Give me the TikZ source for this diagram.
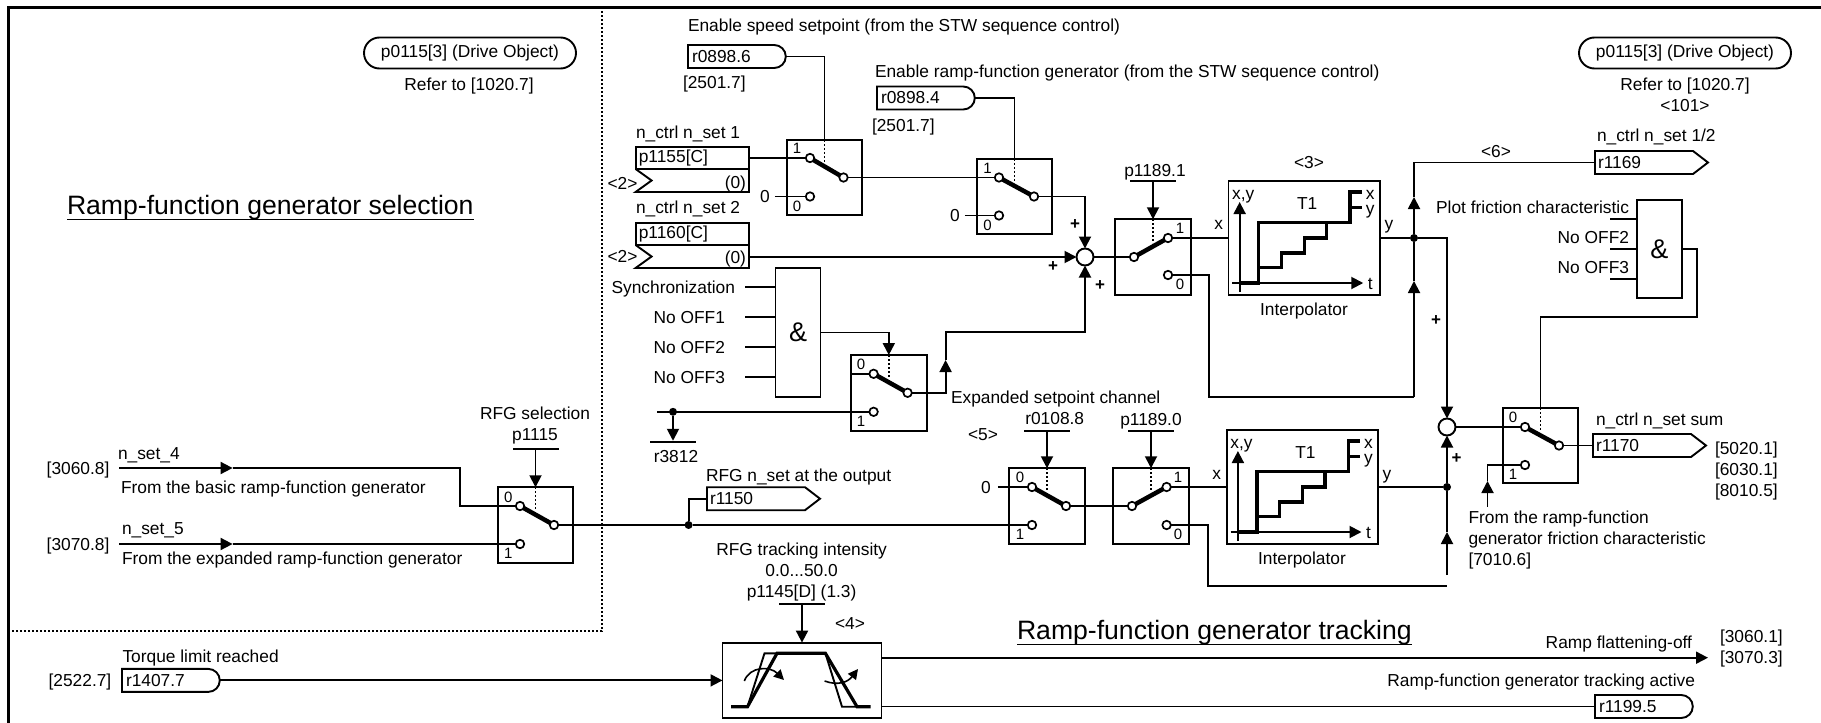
\documentclass[tikz,border=0pt]{standalone}
\usepackage{fontspec}
\setmainfont{Liberation Sans}
\usetikzlibrary{arrows.meta, shapes.misc, shapes.symbols}

\begin{document}
\begin{tikzpicture}[
  x=1pt, y=-1pt,
  txt/.style={font=\fontsize{17.35}{21}\selectfont, inner sep=0pt, outer sep=0pt,
              text height=12.4pt, text depth=0pt},
  stack/.style={font=\fontsize{17.35}{21}\selectfont, inner sep=0pt, outer sep=0pt,
                align=center},
  num/.style={font=\fontsize{15}{15}\selectfont, inner sep=0pt, outer sep=0pt,
              text height=10.8pt, text depth=0pt},
  plus/.style={font=\fontsize{17}{17}\bfseries\selectfont, inner sep=0pt, outer sep=0pt},
  title/.style={font=\fontsize{26.6}{30}\selectfont, inner sep=0pt, outer sep=0pt,
                text height=19pt, text depth=0pt},
  gate/.style={rectangle, draw, line width=1.9pt, inner sep=0pt, outer sep=0pt,
               minimum width=45pt, font=\fontsize{27}{27}\selectfont},
  sw/.style={rectangle, draw, line width=1.9pt, minimum size=75.5pt,
             inner sep=0pt, outer sep=0pt},
  block/.style={rectangle, draw, line width=1.9pt, inner sep=0pt, outer sep=0pt},
  contact/.style={circle, draw, fill=white, line width=1.7pt, minimum size=8.5pt,
                  inner sep=0pt, outer sep=0pt},
  junct/.style={circle, fill=black, minimum size=8pt, inner sep=0pt, outer sep=0pt},
  sumnode/.style={circle, draw, line width=1.9pt, minimum size=17pt, inner sep=0pt,
                  outer sep=0pt},
  bar/.style={rectangle, fill=black, minimum width=46pt, minimum height=1.9pt,
              inner sep=0pt, outer sep=0pt},
  pill/.style={rounded rectangle, draw, line width=1.9pt, minimum width=212pt,
               minimum height=31pt, inner sep=0pt, outer sep=0pt,
               font=\fontsize{17.35}{21}\selectfont},
  term/.style={rounded rectangle, rounded rectangle left arc=none, draw, line width=1.9pt,
               anchor=west, minimum height=23pt, text width=88pt, align=left,
               inner xsep=4pt, inner ysep=0pt, outer sep=0pt,
               font=\fontsize{17.35}{21}\selectfont},
  tag/.style={signal, signal to=east, signal from=nowhere, signal pointer angle=75,
              draw, line width=1.9pt, anchor=west, minimum height=23pt, text width=92pt,
              align=left, inner xsep=3pt, inner ysep=0pt, outer sep=0pt,
              font=\fontsize{17.35}{21}\selectfont},
  param/.style={rectangle, draw, line width=1.9pt, anchor=north west, minimum width=113.4pt,
                minimum height=22pt, text width=107pt, align=left, inner xsep=3pt,
                inner ysep=0pt, outer sep=0pt, font=\fontsize{17.35}{21}\selectfont},
  wire/.style={line width=1.9pt},
  blade/.style={line width=4.5pt},
  thick stair/.style={line width=3.2pt},
  dots/.style={line width=1.6pt, dash pattern=on 2pt off 2pt},
  arrow/.style={-{Triangle[length=12pt,width=12pt]}, line width=1.9pt},
  stairs/.pic={
    \draw[arrow] (-64.6,54) -- (-64.6,-36);
    \draw[arrow] (-72,45) -- (59,45);
    \draw[thick stair] (-64,45) -- (-45.6,45) -- (-45.6,-15.3) -- (45.8,-15.3)
      -- (45.8,-46) -- (57.8,-46);
    \draw[thick stair] (-45.6,29.3) -- (-23,29.3) -- (-23,15) -- (0,15) -- (0,0)
      -- (22.5,0) -- (22.5,-15.3);
    \draw[thick stair] (45.8,-30.7) -- (57.8,-30.7);
    \node[txt] (axy) at (-61,-45) {x,y};
    \node[txt] (at) at (66,45) {t};
    \node[txt] (name) at (3,-35) {T1};
    \node[txt] (ox) at (66,-45) {x};
    \node[txt] (oy) at (66,-30) {y};
  }
]
  \useasboundingbox (0,0) rectangle (1821,723);

  \coordinate (fbl) at (8.5,723);
  \coordinate (ftl) at (8.5,7);
  \coordinate (ftr) at (1821,7);
  \draw[line width=3pt] (fbl) -- (ftl) -- (ftr);
  \coordinate (dtop) at (602,7);
  \coordinate (dcor) at (602,631);
  \coordinate (dleft) at (12,631);
  \draw[dots] (dtop) -- (dcor) -- (dleft);

  \node[pill] (objl) at (470,53) {p0115[3] (Drive Object)};
  \node[txt] (refl) at (469,84) {Refer to [1020.7]};
  \node[pill] (objr) at (1685,53) {p0115[3] (Drive Object)};
  \node[stack, anchor=north] (refr) at (1685,78) {Refer to [1020.7]\\{<}101>};

  \node[title, anchor=west] (tsel) at (67,205) {Ramp-function generator selection};
  \draw[wire] ([yshift=-5pt]tsel.south west) -- ([yshift=-5pt]tsel.south east);
  \node[title, anchor=west] (ttrk) at (1017,630) {Ramp-function generator tracking};
  \draw[wire] ([yshift=-5pt]ttrk.south west) -- ([yshift=-5pt]ttrk.south east);

  \node[txt, anchor=west] (lsp) at (688,25) {Enable speed setpoint (from the STW sequence control)};
  \node[term] (r08986) at (688,56.5) {r0898.6};
  \node[txt, anchor=west] (x25a) at (683,82) {[2501.7]};
  \node[txt, anchor=west] (lrf) at (875,71) {Enable ramp-function generator (from the STW sequence control)};
  \node[term] (r08984) at (877,98) {r0898.4};
  \node[txt, anchor=west] (x25b) at (872,125) {[2501.7]};

  \node[txt, anchor=west] (ln1) at (636,132) {n\_ctrl n\_set 1};
  \node[param] (p1155) at (635.6,147) {p1155[C]};
  \draw[wire] (p1155.south west) -- ++(16,11.5) -- ++(-16,11.5) -- ++(113.4,0) -- (p1155.south east);
  \node[txt, anchor=east] (d1155) at (746,182) {(0)};
  \node[txt] (w1155) at (622.5,183) {<2>};
  \node[txt, anchor=west] (ln2) at (636,207) {n\_ctrl n\_set 2};
  \node[param] (p1160) at (635.6,223) {p1160[C]};
  \draw[wire] (p1160.south west) -- ++(16,11.5) -- ++(-16,11.5) -- ++(113.4,0) -- (p1160.south east);
  \node[txt, anchor=east] (d1160) at (746,257) {(0)};
  \node[txt] (w1160) at (622.5,256) {<2>};
  \coordinate (p1160o) at (749,257);

  \node[sw] (sw1) at (824.5,177.5) {};
  \node[contact] (sw1a) at (810,158) {};
  \node[contact] (sw1b) at (843.5,177.5) {};
  \node[contact] (sw1c) at (810,196.5) {};
  \node[num] (sw1p) at (797,148) {1};
  \node[num] (sw1q) at (797,206) {0};
  \node[txt] (z1) at (765,196.5) {0};
  \draw[blade] (sw1a) -- (sw1b);
  \draw[dots] (sw1.north) -- ++(0,23);
  \draw[wire] (r08986.east) -| (sw1.north);
  \coordinate (p1155o) at (749,158);
  \draw[wire] (p1155o) -- (sw1a);
  \draw[wire] ([xshift=5pt]z1.east) -- (sw1c);

  \node[sw] (sw2) at (1014.5,196.5) {};
  \node[contact] (sw2a) at (999,177.5) {};
  \node[contact] (sw2b) at (1034,196.5) {};
  \node[contact] (sw2c) at (999,215.5) {};
  \node[num] (sw2p) at (987.5,168) {1};
  \node[num] (sw2q) at (987.5,225) {0};
  \node[txt] (z2) at (955,215.5) {0};
  \draw[blade] (sw2a) -- (sw2b);
  \draw[dots] (sw2.north) -- ++(0,23);
  \draw[wire] (r08984.east) -| (sw2.north);
  \draw[wire] (sw1b) -- (sw2a);
  \draw[wire] ([xshift=5pt]z2.east) -- (sw2c);

  \node[sumnode] (sum1) at (1085,257) {};
  \draw[arrow] (sw2b) -| (sum1.north);
  \draw[arrow] (p1160o) -- (sum1.west);
  \node[plus] (pl1) at (1075,225) {+};
  \node[plus] (pl2) at (1053,267) {+};
  \node[plus] (pl3) at (1100,286) {+};

  \node[gate, minimum height=129pt] (and1) at (798,332.5) {\&};
  \node[txt, anchor=east] (lsync) at (735,287) {Synchronization};
  \node[txt, anchor=east] (loff1) at (725,317) {No OFF1};
  \node[txt, anchor=east] (loff2) at (725,347) {No OFF2};
  \node[txt, anchor=east] (loff3) at (725,377) {No OFF3};
  \draw[wire] ([xshift=10pt]lsync.east) -- (lsync.east -| and1.west);
  \draw[wire] ([xshift=20pt]loff1.east) -- (loff1.east -| and1.west);
  \draw[wire] ([xshift=20pt]loff2.east) -- (loff2.east -| and1.west);
  \draw[wire] ([xshift=20pt]loff3.east) -- (loff3.east -| and1.west);

  \node[sw] (sw3) at (888.8,392.8) {};
  \node[contact] (sw3a) at (873.6,373.8) {};
  \node[contact] (sw3b) at (907.6,392.8) {};
  \node[contact] (sw3c) at (873.6,411.8) {};
  \node[num] (sw3p) at (861,364) {0};
  \node[num] (sw3q) at (861,421) {1};
  \draw[blade] (sw3a) -- (sw3b);
  \draw[dots] (sw3.north) -- ++(0,23);
  \draw[arrow] (and1.east) -| (sw3.north);
  \draw[wire] (sw3a -| sw3.west) -- (sw3a);
  \coordinate (t3) at (945.6,360);
  \coordinate (j1) at (1085,332);
  \draw[arrow] (sw3b) -| (t3);
  \draw[arrow] (t3) |- (j1) -- (sum1.south);

  \coordinate (r3s) at (657,411.8);
  \node[junct] (dr3) at (673,411.8) {};
  \draw[wire] (r3s) -- (sw3c);
  \node[bar] (br3) at (673,441.7) {};
  \draw[arrow] (dr3) -- (br3);
  \node[txt] (lr3) at (676,456) {r3812};

  \node[sw] (swg) at (1153,257) {};
  \node[contact] (swga) at (1168,238) {};
  \node[contact] (swgb) at (1134,257) {};
  \node[contact] (swgc) at (1168,275) {};
  \node[num] (swgp) at (1180,228) {1};
  \node[num] (swgq) at (1180,284) {0};
  \draw[blade] (swga) -- (swgb);
  \draw[dots] (swg.north) -- ++(0,24);
  \node[txt] (lpg) at (1155,170) {p1189.1};
  \node[bar] (bpg) at (1153,181) {};
  \draw[arrow] (bpg) -- (swg.north);
  \draw[wire] (sum1.east) -- (swgb);

  \node[block, minimum width=151.5pt, minimum height=114pt] (ip1) at (1304.25,238) {};
  \pic (pa) at (1304.25,238) {stairs};
  \node[txt] (lw3) at (1309,162) {<3>};
  \node[txt] (lip1) at (1304,309) {Interpolator};
  \node[txt] (ip1x) at (1218.6,223) {x};
  \node[txt] (ip1y) at (1389,223) {y};
  \draw[wire] (swga) -- (ip1.west);

  \node[junct] (d1) at (1414,238) {};
  \coordinate (ja) at (1209,397);
  \coordinate (jb) at (1414,397);
  \coordinate (t1) at (1414,281);
  \coordinate (t2) at (1414,197);
  \draw[wire] (ip1.east) -- (d1);
  \draw[wire] (swgc) -| (ja) -- (jb);
  \draw[arrow] (jb) -- (t1);
  \draw[wire] (t1) -- (d1);
  \draw[arrow] (d1) -- (t2);
  \node[tag] (r1169) at (1595,162.5) {r1169};
  \draw[wire] (t2) |- (r1169.west);
  \node[txt] (lw6) at (1496,151) {<6>};
  \node[txt, anchor=west] (ls12) at (1597,135) {n\_ctrl n\_set 1/2};

  \node[gate, minimum height=98pt] (and2) at (1659.4,249) {\&};
  \node[txt, anchor=east] (lpf) at (1629,207) {Plot friction characteristic};
  \node[txt, anchor=east] (lo2) at (1629,237) {No OFF2};
  \node[txt, anchor=east] (lo3) at (1629,267) {No OFF3};
  \coordinate (pf) at (1610,218.7);
  \coordinate (po2) at (1610,248.7);
  \coordinate (po3) at (1610,279.3);
  \draw[wire] (pf) -- (pf -| and2.west);
  \draw[wire] (po2) -- (po2 -| and2.west);
  \draw[wire] (po3) -- (po3 -| and2.west);

  \node[sumnode] (sum2) at (1447,427) {};
  \draw[arrow] (d1.east) -| (sum2.north);
  \node[plus] (pl4) at (1436,320.7) {+};
  \node[plus] (pl5) at (1456.6,459) {+};

  \node[sw] (sw6) at (1540.5,445.5) {};
  \node[contact] (sw6a) at (1525,427) {};
  \node[contact] (sw6b) at (1559,445.5) {};
  \node[contact] (sw6c) at (1525,465) {};
  \node[num] (sw6p) at (1513,416.7) {0};
  \node[num] (sw6q) at (1513,474) {1};
  \draw[blade] (sw6a) -- (sw6b);
  \draw[dots] (sw6.north) -- ++(0,23);
  \coordinate (j2) at (1697.4,317);
  \draw[wire] (and2.east) -| (j2) -| (sw6.north);
  \draw[wire] (sum2.east) -- (sw6a);
  \node[tag] (r1170) at (1593,445.5) {r1170};
  \draw[wire] (sw6b) -- (r1170.west);
  \node[txt, anchor=west] (lsum) at (1596,419) {n\_ctrl n\_set sum};
  \node[stack, anchor=north west, align=left] (xsum) at (1715,441.5) {[5020.1]\\{[}6030.1]\\{[}8010.5]};
  \coordinate (t6) at (1487.5,481);
  \coordinate (f6) at (1487.5,506.7);
  \draw[wire] (sw6c) -| (t6);
  \draw[arrow] (f6) -- (t6);
  \node[stack, anchor=north west, align=left] (lfric) at (1468.5,510.5)
    {From the ramp-function\\generator friction characteristic\\{[}7010.6]};

  \node[sw] (sw4) at (1047,506) {};
  \node[contact] (sw4a) at (1032,487) {};
  \node[contact] (sw4b) at (1066,506) {};
  \node[contact] (sw4c) at (1032,525) {};
  \node[num] (sw4p) at (1020,477) {0};
  \node[num] (sw4q) at (1020,534) {1};
  \node[txt] (z4) at (986,487) {0};
  \draw[blade] (sw4a) -- (sw4b);
  \draw[dots] (sw4.north) -- ++(0,23);
  \draw[wire] ([xshift=7pt]z4.east) -- (sw4a);
  \node[txt] (l1088) at (1054.7,418) {r0108.8};
  \node[bar] (b1088) at (1047,430.7) {};
  \draw[arrow] (b1088) -- (sw4.north);
  \node[txt] (lw5) at (983,434) {<5>};
  \node[txt, anchor=west] (lexp) at (951,397) {Expanded setpoint channel};

  \node[sw] (swe) at (1151,506) {};
  \node[contact] (swea) at (1166.6,487) {};
  \node[contact] (sweb) at (1132,506) {};
  \node[contact] (swec) at (1166.6,525) {};
  \node[num] (swep) at (1178,477) {1};
  \node[num] (sweq) at (1178,534) {0};
  \draw[blade] (swea) -- (sweb);
  \draw[dots] (swe.north) -- ++(0,23);
  \node[txt] (l1890) at (1151,419) {p1189.0};
  \node[bar] (b1890) at (1151,430.7) {};
  \draw[arrow] (b1890) -- (swe.north);
  \draw[wire] (sw4b) -- (sweb);

  \node[block, minimum width=151pt, minimum height=113.3pt] (ip2) at (1302.5,487) {};
  \pic (pb) at (1302.5,487) {stairs};
  \node[txt] (lip2) at (1302,558) {Interpolator};
  \node[txt] (ip2x) at (1216.6,473) {x};
  \node[txt] (ip2y) at (1387,473) {y};
  \draw[wire] (swea) -- (ip2.west);
  \node[junct] (d3) at (1447,487) {};
  \draw[wire] (ip2.east) -- (d3);
  \draw[arrow] (d3) -- (sum2.south);
  \coordinate (jc) at (1208,586);
  \coordinate (jd) at (1447,586);
  \coordinate (f2) at (1447,575);
  \coordinate (t4) at (1447,532);
  \draw[wire] (swec) -| (jc) -- (jd);
  \draw[arrow] (f2) -- (t4);
  \draw[wire] (t4) -- (d3);

  \node[sw] (sw0) at (535.5,525) {};
  \node[contact] (sw0a) at (520,506) {};
  \node[contact] (sw0b) at (554,525) {};
  \node[contact] (sw0c) at (520,544) {};
  \node[num] (sw0p) at (508.4,496.7) {0};
  \node[num] (sw0q) at (508.4,553) {1};
  \draw[blade] (sw0a) -- (sw0b);
  \draw[dots] (sw0.north) -- ++(0,23);
  \node[stack, anchor=north] (lrfg) at (535,407) {RFG selection\\p1115};
  \node[bar] (b1115) at (535.5,449.3) {};
  \draw[arrow] (b1115) -- (sw0.north);

  \node[txt, anchor=west] (ln4) at (118,453) {n\_set\_4};
  \node[txt, anchor=west] (x36) at (46.7,468) {[3060.8]};
  \node[txt, anchor=west] (lb4) at (121,487) {From the basic ramp-function generator};
  \node[txt, anchor=west] (ln5) at (122,528) {n\_set\_5};
  \node[txt, anchor=west] (x37) at (46.7,544) {[3070.8]};
  \node[txt, anchor=west] (lb5) at (122,558) {From the expanded ramp-function generator};
  \coordinate (f4) at (119.4,468);
  \coordinate (t5) at (232.6,468);
  \coordinate (je) at (460,506);
  \draw[arrow] (f4) -- (t5);
  \draw[wire] (t5) -| (je) -- (sw0a);
  \coordinate (f5) at (119.4,544);
  \coordinate (t7) at (232.6,544);
  \draw[arrow] (f5) -- (t7);
  \draw[wire] (t7) -- (sw0c);

  \node[junct] (d2) at (688.6,525) {};
  \draw[wire] (sw0b) -- (d2);
  \draw[wire] (d2) -- (sw4c);
  \node[tag] (r1150) at (707,498.7) {r1150};
  \draw[wire] (d2) |- (r1150.west);
  \node[txt, anchor=west] (l1150) at (706,475) {RFG n\_set at the output};

  \node[block, minimum width=159pt, minimum height=75.6pt] (rfg) at (802,680.4) {};
  \draw[thick stair] (731,706.7) -- (747.5,706.7) -- (777,653.3) -- (825.4,653.3)
    -- (857,706.7) -- (870.5,706.7);
  \draw[wire] (747.5,706.7) -- (764.5,653.3) -- (777,653.3);
  \draw[wire] (825.4,653.3) -- (842,706.7) -- (857,706.7);
  \draw[-{Triangle[length=10pt,width=10pt]}, line width=1.6pt] (744.3,681)
    .. controls (750,666) and (770,666) .. (784,680);
  \draw[-{Triangle[length=10pt,width=10pt]}, line width=1.6pt] (824.6,681)
    .. controls (838,686) and (848,682) .. (858,669);
  \node[stack, anchor=north] (lint) at (801.6,543)
    {RFG tracking intensity\\0.0...50.0\\p1145[D] (1.3)};
  \node[bar] (b1145) at (802,604.3) {};
  \draw[arrow] (b1145) -- (rfg.north);
  \node[txt] (lw4) at (850,623) {<4>};

  \node[txt, anchor=west] (ltq) at (122.5,656.7) {Torque limit reached};
  \node[txt, anchor=west] (x25) at (48.6,680.4) {[2522.7]};
  \node[term] (r14077) at (122,680.4) {r1407.7};
  \draw[arrow] (r14077.east) -- (rfg.west);

  \coordinate (o1) at (881.5,657.7);
  \coordinate (o1e) at (1708,657.7);
  \draw[arrow] (o1) -- (o1e);
  \node[txt, anchor=east] (lfl) at (1692,642.3) {Ramp flattening-off};
  \node[stack, anchor=north west, align=left] (x30) at (1720,629.7) {[3060.1]\\{[}3070.3]};
  \node[txt, anchor=east] (lact) at (1695,680) {Ramp-function generator tracking active};
  \node[term] (r11995) at (1595,706.5) {r1199.5};
  \coordinate (o2) at (881.5,706.5);
  \draw[wire] (o2) -- (r11995.west);
\end{tikzpicture}
\end{document}
